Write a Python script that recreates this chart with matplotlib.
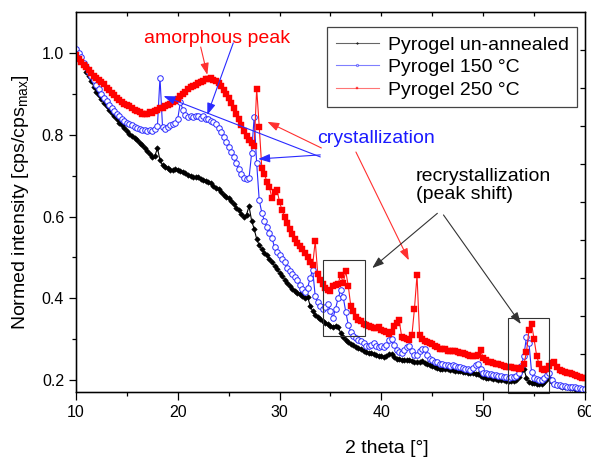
import numpy as np
import matplotlib
matplotlib.use("Agg")
import matplotlib.pyplot as plt

plt.rcParams['font.family'] = ['Liberation Sans', 'DejaVu Sans']
plt.rcParams['mathtext.fontset'] = 'custom'
plt.rcParams['mathtext.rm'] = 'Liberation Sans'
plt.rcParams['mathtext.it'] = 'Liberation Sans:italic'

# 2 theta sampling grid (degrees)
two_theta = np.round(np.arange(10.0, 60.001, 0.25), 2)

unannealed = [
    1.000, 0.992, 0.980, 0.968,   # 10
    0.955, 0.944, 0.931, 0.918,   # 11
    0.905, 0.897, 0.888, 0.879,   # 12
    0.870, 0.861, 0.853, 0.846,   # 13
    0.838, 0.830, 0.823, 0.816,   # 14
    0.810, 0.803, 0.797, 0.792,   # 15
    0.787, 0.781, 0.775, 0.768,   # 16
    0.760, 0.752, 0.745, 0.748,   # 17
    0.768, 0.738, 0.726, 0.722,   # 18
    0.718, 0.714, 0.713, 0.716,   # 19
    0.715, 0.712, 0.710, 0.706,   # 20
    0.703, 0.699, 0.696, 0.698,   # 21
    0.697, 0.693, 0.690, 0.688,   # 22
    0.685, 0.681, 0.676, 0.671,   # 23
    0.667, 0.660, 0.652, 0.648,   # 24
    0.645, 0.638, 0.630, 0.622,   # 25
    0.615, 0.607, 0.598, 0.605,   # 26
    0.625, 0.590, 0.570, 0.545,   # 27
    0.530, 0.520, 0.512, 0.505,   # 28
    0.497, 0.488, 0.480, 0.471,   # 29
    0.463, 0.455, 0.446, 0.438,   # 30
    0.430, 0.424, 0.419, 0.414,   # 31
    0.410, 0.405, 0.400, 0.404,   # 32
    0.382, 0.368, 0.360, 0.355,   # 33
    0.350, 0.345, 0.340, 0.337,   # 34
    0.333, 0.330, 0.333, 0.330,   # 35
    0.315, 0.305, 0.298, 0.293,   # 36
    0.289, 0.285, 0.281, 0.278,   # 37
    0.275, 0.272, 0.269, 0.267,   # 38
    0.265, 0.264, 0.262, 0.260,   # 39
    0.258, 0.257, 0.259, 0.264,   # 40
    0.263, 0.256, 0.252, 0.251,   # 41
    0.250, 0.249, 0.248, 0.250,   # 42
    0.247, 0.245, 0.244, 0.245,   # 43
    0.246, 0.242, 0.238, 0.236,   # 44
    0.234, 0.232, 0.230, 0.228,   # 45
    0.228, 0.227, 0.226, 0.225,   # 46
    0.224, 0.223, 0.222, 0.221,   # 47
    0.220, 0.219, 0.218, 0.217,   # 48
    0.216, 0.215, 0.214, 0.211,   # 49
    0.208, 0.206, 0.205, 0.204,   # 50
    0.203, 0.202, 0.201, 0.200,   # 51
    0.199, 0.198, 0.197, 0.197,   # 52
    0.198, 0.200, 0.208, 0.222,   # 53
    0.228, 0.205, 0.195, 0.193,   # 54
    0.192, 0.191, 0.190, 0.190,   # 55
    0.195, 0.202, 0.205, 0.196,   # 56
    0.190, 0.187, 0.185, 0.184,   # 57
    0.183, 0.182, 0.181, 0.180,   # 58
    0.179, 0.178, 0.177, 0.176,   # 59
    0.175,                        # 60
]

annealed_150 = [
    1.010, 1.000, 0.990, 0.975,   # 10
    0.965, 0.955, 0.945, 0.935,   # 11
    0.922, 0.912, 0.900, 0.890,   # 12
    0.882, 0.873, 0.866, 0.858,   # 13
    0.850, 0.845, 0.840, 0.834,   # 14
    0.830, 0.826, 0.824, 0.820,   # 15
    0.818, 0.815, 0.813, 0.811,   # 16
    0.810, 0.812, 0.810, 0.814,   # 17
    0.822, 0.940, 0.820, 0.815,   # 18
    0.820, 0.824, 0.826, 0.828,   # 19
    0.840, 0.880, 0.862, 0.848,   # 20
    0.843, 0.845, 0.843, 0.846,   # 21
    0.845, 0.842, 0.845, 0.840,   # 22
    0.838, 0.835, 0.832, 0.826,   # 23
    0.818, 0.807, 0.795, 0.782,   # 24
    0.770, 0.758, 0.746, 0.730,   # 25
    0.716, 0.704, 0.695, 0.692,   # 26
    0.694, 0.755, 0.843, 0.730,   # 27
    0.640, 0.610, 0.590, 0.575,   # 28
    0.560, 0.548, 0.525, 0.514,   # 29
    0.505, 0.496, 0.488, 0.475,   # 30
    0.466, 0.460, 0.452, 0.446,   # 31
    0.432, 0.422, 0.416, 0.425,   # 32
    0.450, 0.470, 0.405, 0.390,   # 33
    0.380, 0.373, 0.378, 0.385,   # 34
    0.370, 0.352, 0.375, 0.400,   # 35
    0.420, 0.403, 0.367, 0.335,   # 36
    0.318, 0.307, 0.302, 0.298,   # 37
    0.296, 0.290, 0.283, 0.284,   # 38
    0.286, 0.290, 0.283, 0.282,   # 39
    0.284, 0.281, 0.286, 0.297,   # 40
    0.300, 0.285, 0.274, 0.268,   # 41
    0.267, 0.274, 0.280, 0.283,   # 42
    0.272, 0.262, 0.262, 0.270,   # 43
    0.276, 0.275, 0.262, 0.252,   # 44
    0.248, 0.245, 0.243, 0.240,   # 45
    0.238, 0.236, 0.236, 0.235,   # 46
    0.236, 0.234, 0.232, 0.233,   # 47
    0.230, 0.228, 0.226, 0.225,   # 48
    0.230, 0.237, 0.240, 0.228,   # 49
    0.218, 0.216, 0.215, 0.214,   # 50
    0.212, 0.212, 0.210, 0.210,   # 51
    0.208, 0.207, 0.206, 0.207,   # 52
    0.207, 0.210, 0.218, 0.235,   # 53
    0.260, 0.305, 0.290, 0.220,   # 54
    0.205, 0.202, 0.200, 0.200,   # 55
    0.205, 0.212, 0.216, 0.200,   # 56
    0.190, 0.188, 0.187, 0.186,   # 57
    0.185, 0.184, 0.184, 0.183,   # 58
    0.183, 0.181, 0.180, 0.179,   # 59
    0.178,                        # 60
]

annealed_250 = [
    0.995, 0.985, 0.978, 0.970,   # 10
    0.965, 0.958, 0.952, 0.945,   # 11
    0.940, 0.935, 0.930, 0.925,   # 12
    0.915, 0.910, 0.902, 0.897,   # 13
    0.890, 0.885, 0.880, 0.876,   # 14
    0.872, 0.870, 0.865, 0.862,   # 15
    0.858, 0.856, 0.852, 0.850,   # 16
    0.850, 0.855, 0.853, 0.858,   # 17
    0.862, 0.865, 0.866, 0.870,   # 18
    0.872, 0.876, 0.880, 0.883,   # 19
    0.888, 0.895, 0.900, 0.906,   # 20
    0.912, 0.916, 0.920, 0.923,   # 21
    0.927, 0.930, 0.933, 0.936,   # 22
    0.937, 0.938, 0.935, 0.933,   # 23
    0.926, 0.920, 0.910, 0.900,   # 24
    0.890, 0.878, 0.865, 0.850,   # 25
    0.838, 0.825, 0.810, 0.797,   # 26
    0.787, 0.780, 0.772, 0.913,   # 27
    0.820, 0.720, 0.705, 0.685,   # 28
    0.672, 0.645, 0.660, 0.665,   # 29
    0.635, 0.615, 0.600, 0.585,   # 30
    0.570, 0.558, 0.545, 0.535,   # 31
    0.528, 0.520, 0.512, 0.500,   # 32
    0.488, 0.482, 0.540, 0.460,   # 33
    0.445, 0.435, 0.425, 0.420,   # 34
    0.418, 0.430, 0.433, 0.435,   # 35
    0.458, 0.438, 0.466, 0.430,   # 36
    0.380, 0.370, 0.355, 0.347,   # 37
    0.344, 0.338, 0.335, 0.332,   # 38
    0.330, 0.327, 0.328, 0.330,   # 39
    0.322, 0.320, 0.318, 0.312,   # 40
    0.318, 0.333, 0.340, 0.346,   # 41
    0.305, 0.302, 0.300, 0.298,   # 42
    0.310, 0.375, 0.457, 0.310,   # 43
    0.300, 0.296, 0.292, 0.290,   # 44
    0.288, 0.283, 0.280, 0.276,   # 45
    0.275, 0.276, 0.272, 0.270,   # 46
    0.272, 0.270, 0.268, 0.266,   # 47
    0.265, 0.263, 0.262, 0.260,   # 48
    0.258, 0.260, 0.262, 0.273,   # 49
    0.255, 0.248, 0.245, 0.243,   # 50
    0.242, 0.240, 0.238, 0.236,   # 51
    0.235, 0.233, 0.232, 0.231,   # 52
    0.230, 0.229, 0.228, 0.229,   # 53
    0.238, 0.268, 0.322, 0.338,   # 54
    0.300, 0.260, 0.238, 0.228,   # 55
    0.224, 0.226, 0.235, 0.242,   # 56
    0.244, 0.232, 0.225, 0.222,   # 57
    0.220, 0.218, 0.216, 0.214,   # 58
    0.212, 0.210, 0.208, 0.206,   # 59
    0.205,                        # 60
]

labels = ["Pyrogel un-annealed", "Pyrogel 150 °C", "Pyrogel 250 °C"]

fig = plt.figure(figsize=(5.91, 4.62), dpi=100)
ax = fig.add_axes([0.1286, 0.1509, 0.8612, 0.8225])

ax.plot(two_theta, unannealed, color='black', lw=0.8, marker='D', ms=2.8,
        mfc='black', mec='black', mew=0.4, label=labels[0], zorder=3)
ax.plot(two_theta, annealed_150, color='#2a2aff', lw=0.8, marker='o', ms=4.0,
        mfc='white', mec='#2a2aff', mew=0.7, label=labels[1], zorder=4)
ax.plot(two_theta, annealed_250, color='#ff1a1a', lw=0.8, marker='s', ms=3.8,
        mfc='#ff0000', mec='#ff0000', mew=0.3, label=labels[2], zorder=5)

ax.set_xlim(10, 60)
ax.set_ylim(0.17, 1.1)
ax.set_xticks([10, 20, 30, 40, 50, 60])
ax.set_xticks(np.arange(15, 60, 10), minor=True)
ax.set_yticks([0.2, 0.4, 0.6, 0.8, 1.0])
ax.set_yticks([0.3, 0.5, 0.7, 0.9], minor=True)
ax.set_yticklabels(['0.2', '0.4', '0.6', '0.8', '1.0'])
ax.tick_params(which='major', direction='out', length=5, width=0.9, labelsize=11.5)
ax.tick_params(which='minor', direction='out', length=3, width=0.9)
ax.tick_params(axis='x', which='major', length=5.5)
for s in ax.spines.values():
    s.set_linewidth(1.0)

# top / right inward ticks
axt = ax.twiny()
axt.set_xlim(10, 60)
axt.set_xticks(np.arange(15, 60, 5))
axt.tick_params(axis='x', direction='in', length=3, width=0.9, labeltop=False, top=True)
axr = ax.twinx()
axr.set_ylim(0, 1)
axr.set_yticks(np.arange(0.1, 0.95, 0.1))
axr.tick_params(axis='y', direction='in', length=3.6, width=0.9, labelright=False, right=True)

ax.set_xlabel("2 theta [°]", fontsize=14)
ax.xaxis.set_label_coords(0.611, -0.125)
ax.set_ylabel("Normed intensity [cps/cps$_{\\mathrm{max}}$]", fontsize=14)
ax.yaxis.set_label_coords(-0.088, 0.5)

leg = ax.legend(loc='upper right', bbox_to_anchor=(0.985, 0.9605), fontsize=14,
                frameon=True, fancybox=False, edgecolor='#444444', framealpha=1,
                handlelength=2.2, handletextpad=0.45, labelspacing=0.25,
                borderpad=0.45, borderaxespad=0.0, markerscale=0.4)
leg.get_frame().set_linewidth(0.9)
for h in leg.get_lines():
    h.set_alpha(0.6)

arrow_kw = dict(arrowstyle='-|>,head_length=0.5,head_width=0.18', lw=0.8,
                mutation_scale=14, shrinkA=0, shrinkB=0)

ax.text(23.9, 1.035, "amorphous peak", color='#ff0000', fontsize=14,
        ha='center', va='center', zorder=6)
ax.annotate("", xy=(22.9, 0.947), xytext=(22.25, 1.015),
            arrowprops=dict(color='#ff3030', **arrow_kw), zorder=6)
ax.annotate("", xy=(22.9, 0.849), xytext=(25.45, 1.025),
            arrowprops=dict(color='#2a2aff', **arrow_kw), zorder=6)

ax.text(33.7, 0.792, "crystallization", color='#1a1aff', fontsize=14,
        ha='left', va='center', zorder=6)
ax.annotate("", xy=(18.6, 0.895), xytext=(34.0, 0.746),
            arrowprops=dict(color='#2a2aff', **arrow_kw), zorder=6)
ax.annotate("", xy=(27.9, 0.741), xytext=(34.0, 0.751),
            arrowprops=dict(color='#2a2aff', **arrow_kw), zorder=6)
ax.annotate("", xy=(28.8, 0.832), xytext=(34.1, 0.768),
            arrowprops=dict(color='#ff3030', **arrow_kw), zorder=6)
ax.annotate("", xy=(42.7, 0.493), xytext=(37.5, 0.758),
            arrowprops=dict(color='#ff3030', **arrow_kw), zorder=6)

ax.text(43.37, 0.718, "recrystallization\n(peak shift)", color='black', fontsize=14,
        ha='left', va='top', linespacing=1.05, zorder=6)
ax.annotate("", xy=(39.1, 0.474), xytext=(45.5, 0.608),
            arrowprops=dict(color='#333333', **arrow_kw), zorder=6)
ax.annotate("", xy=(53.7, 0.337), xytext=(46.1, 0.604),
            arrowprops=dict(color='#333333', **arrow_kw), zorder=6)

ax.add_patch(plt.Rectangle((34.25, 0.308), 4.1, 0.185, fill=False,
                           edgecolor='#333333', lw=0.8, zorder=6))
ax.add_patch(plt.Rectangle((52.4, 0.168), 4.1, 0.185, fill=False,
                           edgecolor='#333333', lw=0.8, zorder=6, clip_on=False))

fig.savefig("out.png", dpi=100)
